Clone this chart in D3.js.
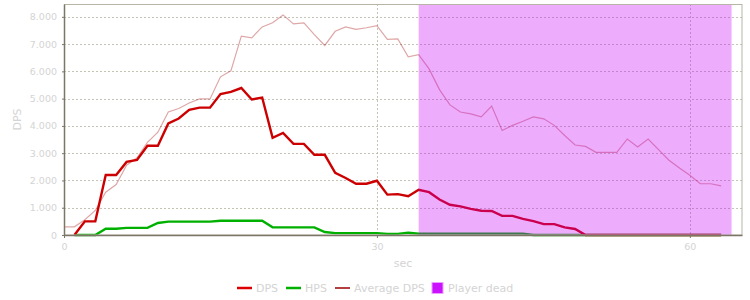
<!DOCTYPE html>
<html>
<head>
<meta charset="utf-8">
<script src="https://cdn.jsdelivr.net/npm/d3@7"></script>
<style>
  body { margin: 0; background: #fff; }
  svg { display: block; font-family: "DejaVu Sans", sans-serif; }
</style>
</head>
<body>
<div id="chart"></div>
<script>
// seconds where each series begins
const avgStart = 0;
const dpsStart = 1;

const dps = [0, 500, 500, 2200, 2200, 2680, 2750, 3270, 3270, 4090, 4270, 4590, 4670, 4670,
  5170, 5250, 5390, 4970, 5040, 3560, 3740, 3340, 3340, 2940, 2940, 2280, 2090, 1880, 1880,
  1990, 1480, 1500, 1420, 1660, 1570, 1300, 1110, 1050, 960, 890, 880, 700, 700, 590, 510,
  400, 400, 280, 220, 0, 0, 0, 0, 0, 0, 0, 0, 0, 0, 0, 0, 0, 0];

const hps = [0, 0, 0, 230, 230, 260, 260, 260, 440, 490, 490, 490, 490, 490,
  525, 525, 525, 525, 525, 280, 280, 280, 280, 280, 110, 70, 70, 70, 70, 70,
  40, 40, 85, 50, 50, 50, 50, 50, 50, 50, 50, 50, 50, 50,
  0, 0, 0, 0, 0, 0, 0, 0, 0, 0, 0, 0, 0, 0, 0, 0, 0, 0, 0];

const avgDps = [300, 300, 560, 900, 1570, 1850, 2560, 2830, 3400, 3770, 4510, 4640, 4840, 4990,
  4990, 5800, 6020, 7290, 7230, 7630, 7780, 8070, 7740, 7780, 7350, 6950, 7470, 7630, 7540,
  7600, 7680, 7170, 7190, 6530, 6610, 6090, 5330, 4770, 4510, 4440, 4330, 4730, 3830, 4020,
  4170, 4330, 4260, 4020, 3650, 3300, 3250, 3030, 3030, 3030, 3520, 3230, 3520, 3130, 2740,
  2460, 2190, 1880, 1880, 1800];

// player dead interval (seconds)
const deadFrom = 34;
const deadTo = 64;

const xTicks = [0, 30, 60];
const yTicks = [0, 1000, 2000, 3000, 4000, 5000, 6000, 7000, 8000];
const legendItems = ["DPS", "HPS", "Average DPS", "Player dead"];

const W = 750, H = 300;
const margin = { top: 4, right: 8, bottom: 65, left: 64 };
const width = W - margin.left - margin.right,
      height = H - margin.top - margin.bottom;

const svg = d3.select("#chart").append("svg")
  .attr("width", W).attr("height", H);

const g = svg.append("g")
  .attr("transform", `translate(${margin.left},${margin.top})`);

const x = d3.scaleLinear().domain([0, 65]).range([0, width]);
const y = d3.scaleLinear().domain([0, 8470]).range([height, 0]);

const fmt = d => d3.format(",")(d).replace(/,/g, ".");
const labelColor = "#d4d4d4";

// grid
g.append("g").selectAll("line").data(yTicks.slice(1)).join("line")
  .attr("x1", 0).attr("x2", width)
  .attr("y1", d => Math.round(y(d)) + 0.5).attr("y2", d => Math.round(y(d)) + 0.5)
  .attr("stroke", "#b8b4a4").attr("stroke-width", 0.8).attr("stroke-dasharray", "2,2");
g.append("g").selectAll("line").data(xTicks.slice(1)).join("line")
  .attr("x1", d => Math.round(x(d)) + 0.5).attr("x2", d => Math.round(x(d)) + 0.5)
  .attr("y1", 0).attr("y2", height)
  .attr("stroke", "#b8b4a4").attr("stroke-width", 0.8).attr("stroke-dasharray", "2,2");

const line = start => d3.line()
  .x((d, i) => x(i + start))
  .y(d => y(d));

g.append("path").datum(avgDps)
  .attr("d", line(avgStart))
  .attr("fill", "none").attr("stroke", "#a00000").attr("stroke-opacity", 0.35)
  .attr("stroke-width", 1.2);

g.append("path").datum(hps)
  .attr("d", line(dpsStart))
  .attr("fill", "none").attr("stroke", "#00b000").attr("stroke-width", 2.4);

g.append("path").datum(dps)
  .attr("d", line(dpsStart))
  .attr("fill", "none").attr("stroke", "#cc0000").attr("stroke-width", 2.4);

// dead overlay drawn on top of lines
g.append("rect")
  .attr("x", x(deadFrom)).attr("y", 0)
  .attr("width", x(deadTo) - x(deadFrom)).attr("height", height)
  .attr("fill", "rgb(200,0,245)").attr("fill-opacity", 0.32);

// plot outline
g.append("rect")
  .attr("x", 0.5).attr("y", 0.5).attr("width", width - 0.5).attr("height", height - 0.5)
  .attr("fill", "none").attr("stroke", "#b8b4a8");

// axes
const yAxis = g.append("g")
  .call(d3.axisLeft(y).tickValues(yTicks).tickFormat(fmt)
    .tickSizeInner(2).tickSizeOuter(0).tickPadding(5));
const xAxis = g.append("g").attr("transform", `translate(0,${height})`)
  .call(d3.axisBottom(x).tickValues(xTicks).tickSizeInner(3).tickSizeOuter(0).tickPadding(5));

[yAxis, xAxis].forEach(a => {
  a.select(".domain").attr("stroke", "#7c7666").attr("stroke-width", 1.5);
  a.selectAll(".tick line").attr("stroke", "#7c7666");
  a.selectAll("text").attr("fill", labelColor).style("font-size", "9.5px")
    .style("font-family", "DejaVu Sans, sans-serif");
});

svg.append("text")
  .attr("transform", `translate(21,${margin.top + height / 2}) rotate(-90)`)
  .attr("text-anchor", "middle")
  .attr("fill", labelColor).style("font-size", "11px")
  .text("DPS");

svg.append("text")
  .attr("x", margin.left + width / 2).attr("y", 267)
  .attr("text-anchor", "middle")
  .attr("fill", labelColor).style("font-size", "11px")
  .text("sec");

// legend
const legendColors = ["#dd0000", "#00b000", "#990000", "#cc11ff"];
const legendX = [237, 286, 335, 432];
const lg = svg.append("g").attr("transform", "translate(0,288)");
legendItems.forEach((name, i) => {
  if (i < 3) {
    lg.append("line")
      .attr("x1", legendX[i]).attr("x2", legendX[i] + 15)
      .attr("y1", 0).attr("y2", 0)
      .attr("stroke", legendColors[i]).attr("stroke-width", i < 2 ? 2.5 : 1.5);
  } else {
    lg.append("rect")
      .attr("x", legendX[i]).attr("y", -5.5).attr("width", 11).attr("height", 11)
      .attr("fill", legendColors[i]).attr("stroke", "#e8a0ff");
  }
  lg.append("text")
    .attr("x", legendX[i] + (i < 3 ? 19 : 16)).attr("y", 0).attr("dy", "0.35em")
    .attr("fill", labelColor).style("font-size", "11px")
    .text(name);
});
</script>
</body>
</html>
